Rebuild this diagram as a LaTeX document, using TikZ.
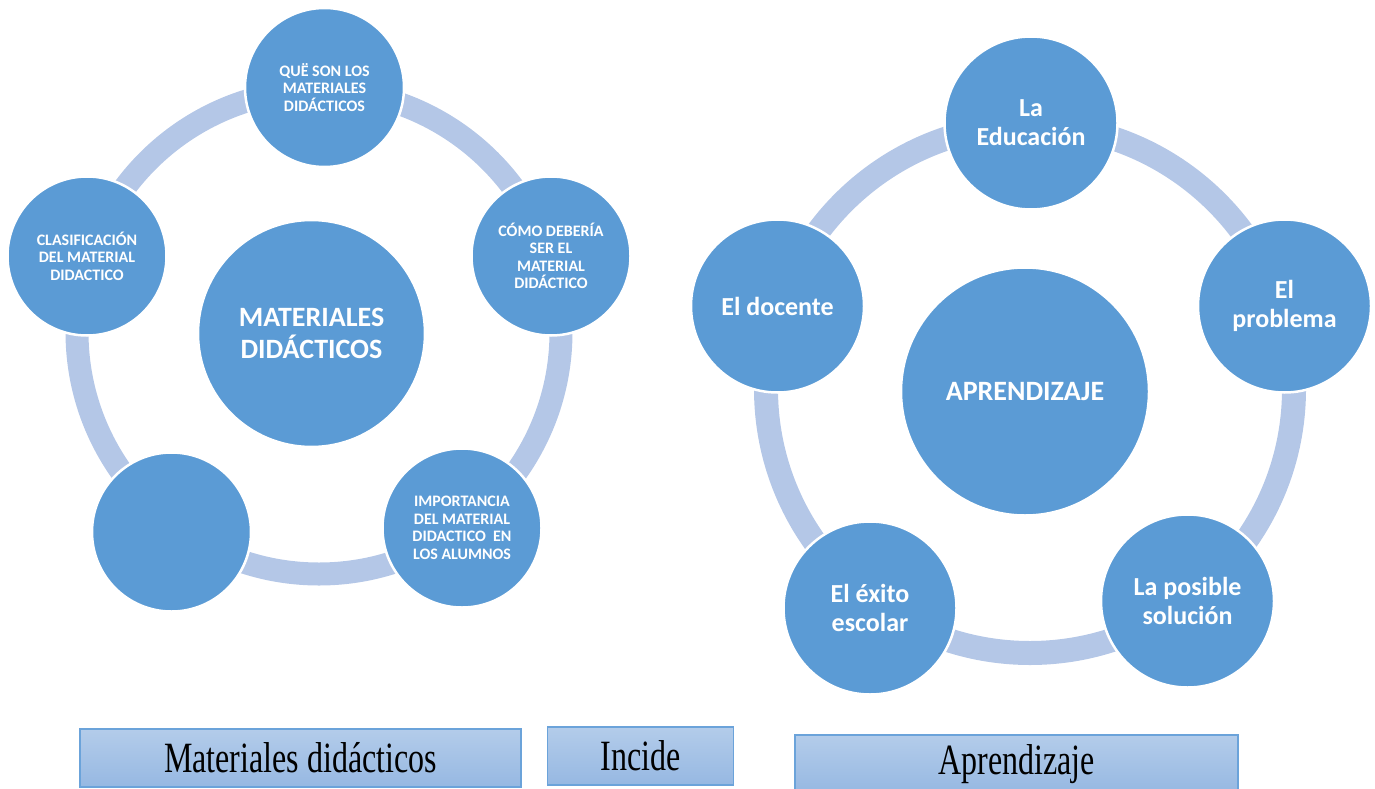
\documentclass[tikz,border=0pt]{standalone}
\usepackage{fontspec}
\setmainfont{Liberation Serif}
\newfontfamily\calibri{Carlito}
\usepackage{tikz}
\definecolor{nodeblue}{HTML}{5B9BD5}
\definecolor{ringblue}{HTML}{B4C7E7}
\definecolor{boxtop}{HTML}{B3CCEA}
\definecolor{boxbot}{HTML}{96B8E2}
\definecolor{boxline}{HTML}{6BA3DA}
\tikzset{
  bubble/.style={circle, fill=nodeblue, draw=white, line width=2.5pt,
    align=center, text=white, inner sep=0pt},
  smallbub/.style={bubble, minimum size=159pt,
    font=\calibri\bfseries\fontsize{16}{17.5}\selectfont},
  bigbub/.style={bubble, minimum size=173pt,
    font=\calibri\bfseries\fontsize{26}{29}\selectfont},
  hub/.style={bubble, font=\calibri\bfseries\fontsize{28}{32}\selectfont},
  ring/.style={ringblue, line width=23pt},
  tag/.style={draw=boxline, line width=1.6pt, top color=boxtop, bottom color=boxbot,
    minimum height=58pt, inner sep=0pt, font=\fontsize{32}{36}\selectfont}
}
\newcommand{\stretched}[1]{\scalebox{1}[1.35]{#1}}

\begin{document}
\begin{tikzpicture}[x=1pt, y=-1pt]
  \useasboundingbox (0,0) rectangle (1375,789);

  % materiales didacticos
  \coordinate (mat-o) at (319,332);
  \draw[ring] (mat-o) circle (242pt);

  \node[hub, minimum size=227pt] (mat) at (311.5,333.5) {MATERIALES\\DIDÁCTICOS};
  \node[smallbub] (mat-1) at (324.5,87.5) {QUË SON LOS\\MATERIALES\\DIDÁCTICOS};
  \node[smallbub] (mat-2) at (551,256) {CÓMO DEBERÍA\\SER EL\\MATERIAL\\DIDÁCTICO};
  \node[smallbub] (mat-3) at (462,528) {IMPORTANCIA\\DEL MATERIAL\\DIDACTICO\ \ EN\\LOS ALUMNOS};
  \node[smallbub] (mat-4) at (171.5,532) {};
  \node[smallbub] (mat-5) at (87,256) {CLASIFICACIÓN\\DEL MATERIAL\\DIDACTICO};

  % aprendizaje
  \coordinate (apr-o) at (1030,389);
  \draw[ring, line width=24pt] (apr-o) circle (264pt);

  \node[hub, minimum size=248pt] (apr) at (1025,391.5) {APRENDIZAJE};
  \node[bigbub] (apr-1) at (1031,123) {La\\Educación};
  \node[bigbub] (apr-2) at (1284.5,306) {El\\problema};
  \node[bigbub] (apr-3) at (1187.5,601) {La posible\\solución};
  \node[bigbub] (apr-4) at (870,608) {El éxito\\escolar};
  \node[bigbub] (apr-5) at (777.5,306) {El docente};

  % etiquetas
  \node[tag, minimum width=441pt] (box-mat) at (300.5,758) {\stretched{Materiales didácticos}};
  \node[tag, minimum width=186pt] (box-inc) at (640.5,756) {\stretched{Incide}};
  \node[tag, minimum width=443pt] (box-apr) at (1016.5,764) {\stretched{Aprendizaje}};
\end{tikzpicture}
\end{document}
